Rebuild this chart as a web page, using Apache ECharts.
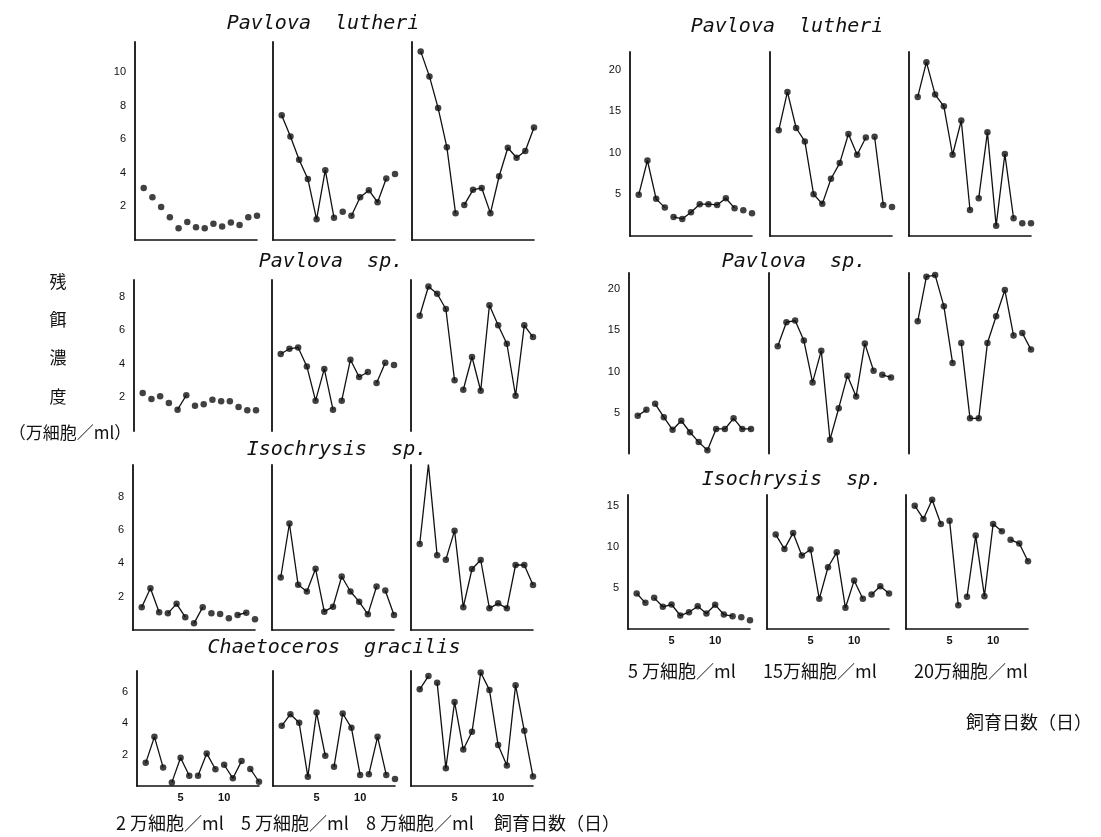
<!DOCTYPE html>
<html>
<head>
<meta charset="utf-8">
<script src="https://cdn.jsdelivr.net/npm/echarts@6/dist/echarts.min.js"></script>
<style>
html, body { margin: 0; padding: 0; background: #fff; }
#chart { width: 1101px; height: 837px; }
</style>
</head>
<body>
<div id="chart"></div>
<script>
// 飼育日数
const days = [1, 2, 3, 4, 5, 6, 7, 8, 9, 10, 11, 12, 13, 14]

// left block: 2万 / 5万 / 8万 細胞/ml
const lutheri2 = [3.1, 2.55, 1.97, 1.35, 0.7, 1.07, 0.76, 0.7, 0.97, 0.8, 1.05, 0.9, 1.35, 1.45]
const lutheri5 = [7.44, 6.17, 4.78, 3.64, 1.23, 4.16, 1.33, 1.69, 1.45, 2.55, 2.97, 2.25, 3.66, 3.94]
const lutheri8 = [11.24, 9.75, 7.86, 5.53, 1.59, 2.09, 2.99, 3.1, 1.6, 3.8, 5.5, 4.9, 5.3, 6.7]
const pavsp2 = [2.27, 1.91, 2.07, 1.67, 1.27, 2.13, 1.51, 1.59, 1.87, 1.77, 1.77, 1.43, 1.23, 1.23]
const pavsp5 = [4.59, 4.9, 4.98, 3.85, 1.81, 3.7, 1.27, 1.81, 4.25, 3.22, 3.52, 2.86, 4.07, 3.93]
const pavsp8 = [6.87, 8.61, 8.18, 7.27, 3.02, 2.46, 4.41, 2.4, 7.5, 6.3, 5.2, 2.1, 6.3, 5.6]
const iso2 = [1.37, 2.51, 1.07, 1.0, 1.57, 0.77, 0.4, 1.37, 1.0, 0.96, 0.7, 0.9, 1.04, 0.64]
const iso5 = [3.15, 6.39, 2.71, 2.31, 3.67, 1.1, 1.4, 3.21, 2.31, 1.7, 0.94, 2.61, 2.37, 0.9]
const iso8 = [5.16, 9.94, 4.48, 4.22, 5.96, 1.37, 3.66, 4.2, 1.3, 1.6, 1.3, 3.9, 3.9, 2.7]
const cha2 = [1.47, 3.12, 1.18, 0.23, 1.79, 0.65, 0.65, 2.07, 1.06, 1.35, 0.49, 1.58, 1.08, 0.27]
const cha5 = [3.82, 4.56, 4.01, 0.59, 4.66, 1.92, 1.22, 4.6, 3.69, 0.7, 0.74, 3.12, 0.7, 0.44]
const cha8 = [6.14, 6.98, 6.56, 1.12, 5.34, 2.32, 3.44, 7.2, 6.1, 2.6, 1.3, 6.4, 3.5, 0.6]

// right block: 5万 / 15万 / 20万 細胞/ml
const rlut5 = [4.94, 9.07, 4.46, 3.41, 2.29, 2.05, 2.86, 3.82, 3.82, 3.73, 4.54, 3.34, 3.1, 2.73]
const rlut15 = [12.69, 17.31, 12.97, 11.36, 5.02, 3.86, 6.87, 8.76, 12.25, 9.76, 11.84, 11.92, 3.73, 3.49]
const rlut20 = [16.71, 20.88, 16.99, 15.58, 9.76, 13.86, 3.13, 4.54, 12.45, 1.24, 9.84, 2.13, 1.53, 1.53]
const rsp5 = [4.6, 5.33, 6.06, 4.44, 2.9, 4.0, 2.6, 1.4, 0.4, 3.0, 3.0, 4.3, 3.0, 3.0]
const rsp15 = [13.07, 16.0, 16.2, 13.77, 8.67, 12.54, 1.7, 5.53, 9.49, 6.96, 13.4, 10.1, 9.6, 9.28]
const rsp20 = [16.12, 21.55, 21.75, 17.96, 11.04, 13.48, 4.3, 4.3, 13.48, 16.74, 19.92, 14.38, 14.7, 12.67]
const riso5 = [4.31, 3.18, 3.79, 2.7, 2.98, 1.64, 2.04, 2.77, 1.88, 2.94, 1.76, 1.56, 1.43, 1.07]
const riso15 = [11.48, 9.74, 11.69, 8.93, 9.66, 3.67, 7.51, 9.33, 2.58, 5.89, 3.67, 4.19, 5.2, 4.31]
const riso20 = [15.0, 13.39, 15.73, 12.78, 13.18, 2.89, 3.91, 11.36, 3.99, 12.78, 11.88, 10.87, 10.39, 8.24]

const xTickLabels = [5, 10]

// row positions (px) of each block of three panels
const rows = [
  { top: 42, zero: 240, max: 11.8, step: 2, lefts: [135, 273, 412], xLine: true, xLabels: false },
  { top: 280, zero: 431, max: 9, step: 2, lefts: [134, 272, 411], xLine: false, xLabels: false },
  { top: 465, zero: 630, max: 9.9, step: 2, lefts: [133, 272, 411], xLine: true, xLabels: false },
  { top: 671, zero: 786, max: 7.3, step: 2, lefts: [137, 273, 411], xLine: true, xLabels: true },
  { top: 52, zero: 236, max: 22.1, step: 5, lefts: [630, 770, 909], xLine: true, xLabels: false },
  { top: 273, zero: 453.6, max: 22, step: 5, lefts: [629, 769, 909], xLine: false, xLabels: false },
  { top: 495, zero: 629, max: 16.3, step: 5, lefts: [628, 767, 906], xLine: true, xLabels: true }
]

// gaps: index k means the segment k -> k+1 is not drawn
const panels = [
  { row: 0, col: 0, data: lutheri2, gaps: [0, 1, 2, 3, 4, 5, 6, 7, 8, 9, 10, 11, 12] },
  { row: 0, col: 1, data: lutheri5, gaps: [6, 7, 12] },
  { row: 0, col: 2, data: lutheri8, gaps: [4] },
  { row: 1, col: 0, data: pavsp2, gaps: [0, 1, 2, 3, 5, 6, 7, 8, 9, 10, 11, 12] },
  { row: 1, col: 1, data: pavsp5, gaps: [6, 10, 12] },
  { row: 1, col: 2, data: pavsp8, gaps: [4] },
  { row: 2, col: 0, data: iso2, gaps: [2, 5, 7, 8, 9, 10, 12] },
  { row: 2, col: 1, data: iso5, gaps: [11] },
  { row: 2, col: 2, data: iso8, gaps: [2] },
  { row: 3, col: 0, data: cha2, gaps: [2, 5, 8, 11] },
  { row: 3, col: 1, data: cha5, gaps: [5, 9, 12] },
  { row: 3, col: 2, data: cha8, gaps: [1] },
  { row: 4, col: 0, data: rlut5, gaps: [3, 11, 12] },
  { row: 4, col: 1, data: rlut15, gaps: [10, 12] },
  { row: 4, col: 2, data: rlut20, gaps: [6, 11, 12] },
  { row: 5, col: 0, data: rsp5, gaps: [1] },
  { row: 5, col: 1, data: rsp15, gaps: [11] },
  { row: 5, col: 2, data: rsp20, gaps: [4, 11] },
  { row: 6, col: 0, data: riso5, gaps: [1, 11, 12] },
  { row: 6, col: 1, data: riso15, gaps: [10] },
  { row: 6, col: 2, data: riso20, gaps: [3, 5, 10] }
]

const ink = '#111'
const grids = []
const xAxes = []
const yAxes = []
const series = []

panels.forEach((p, i) => {
  const r = rows[p.row]
  grids.push({ left: r.lefts[p.col], top: r.top, width: 122, height: r.zero - r.top })
  xAxes.push({
    gridIndex: i, type: 'value', min: 0, max: 14, interval: 5,
    axisLine: { show: r.xLine, lineStyle: { color: ink, width: 1.6 } },
    axisTick: { show: false },
    splitLine: { show: false },
    axisLabel: {
      show: r.xLabels, color: ink, fontSize: 11, fontWeight: 'bold', margin: 6,
      fontFamily: 'Liberation Sans',
      formatter: v => xTickLabels.includes(v) ? String(v) : ''
    }
  })
  yAxes.push({
    gridIndex: i, type: 'value', min: 0, max: r.max, interval: r.step,
    axisLine: { show: true, lineStyle: { color: ink, width: 1.8 } },
    axisTick: { show: false },
    splitLine: { show: false },
    axisLabel: {
      show: p.col === 0, color: ink, fontSize: 11, margin: 9,
      fontFamily: 'Liberation Sans',
      formatter: v => (v > 0 && v % r.step === 0) ? String(v) : ''
    }
  })
  let run = []
  p.data.forEach((v, k) => {
    run.push([days[k], v])
    if (p.gaps.includes(k) || k === p.data.length - 1) {
      if (run.length > 1) {
        series.push({
          type: 'line', xAxisIndex: i, yAxisIndex: i, data: run,
          showSymbol: false, silent: true,
          lineStyle: { color: ink, width: 1.3 }
        })
      }
      run = []
    }
  })
  series.push({
    type: 'scatter', xAxisIndex: i, yAxisIndex: i,
    data: p.data.map((v, k) => [days[k], v]),
    symbolSize: 6.5, itemStyle: { color: ink }
  })
})

const titleFont = 'italic 20px "DejaVu Sans Mono"'
const cjkFont = '17px "Noto Sans CJK JP"'
const bottomFont = '18px "Noto Sans CJK JP"'
const txt = (x, y, text, font, align) => ({
  type: 'text', x: x, y: y, silent: true,
  style: { text: text, font: font, fill: ink, align: align || 'center', verticalAlign: 'middle' }
})

const labels = [
  txt(323, 24, 'Pavlova  lutheri', titleFont),
  txt(331, 262, 'Pavlova  sp.', titleFont),
  txt(337, 450, 'Isochrysis  sp.', titleFont),
  txt(334, 648, 'Chaetoceros  gracilis', titleFont),
  txt(787, 27, 'Pavlova  lutheri', titleFont),
  txt(794, 262, 'Pavlova  sp.', titleFont),
  txt(792, 480, 'Isochrysis  sp.', titleFont),
  txt(58, 282, '残', cjkFont),
  txt(58, 320, '餌', cjkFont),
  txt(58, 358, '濃', cjkFont),
  txt(58, 397, '度', cjkFont),
  txt(70, 433, '（万細胞／ml）', cjkFont),
  txt(116, 823, '2 万細胞／ml', bottomFont, 'left'),
  txt(241, 823, '5 万細胞／ml', bottomFont, 'left'),
  txt(366, 823, '8 万細胞／ml', bottomFont, 'left'),
  txt(494, 823, '飼育日数（日）', bottomFont, 'left'),
  txt(628, 671, '5 万細胞／ml', bottomFont, 'left'),
  txt(763, 671, '15万細胞／ml', bottomFont, 'left'),
  txt(914, 671, '20万細胞／ml', bottomFont, 'left'),
  txt(1092, 722, '飼育日数（日）', bottomFont, 'right')
]

const option = {
  backgroundColor: '#fff',
  animation: false,
  grid: grids,
  xAxis: xAxes,
  yAxis: yAxes,
  series: series,
  graphic: labels
}

const myChart = echarts.init(document.getElementById('chart'))
myChart.setOption(option)
</script>
</body>
</html>
